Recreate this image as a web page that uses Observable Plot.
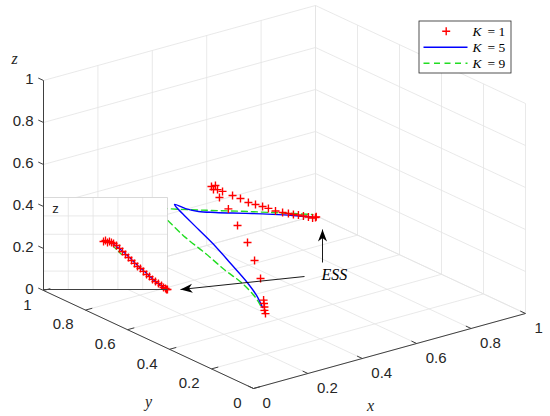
<!DOCTYPE html>
<html><head><meta charset="utf-8">
<script src="https://cdn.jsdelivr.net/npm/d3@7"></script>
<script src="https://cdn.jsdelivr.net/npm/@observablehq/plot@0.6"></script>
<style>html,body{margin:0;padding:0;background:#fff;} #chart{width:550px;height:416px;}</style>
</head><body><div id="chart"></div>
<script>
// ---------------- data ----------------
const tickValues = [0, 0.2, 0.4, 0.6, 0.8, 1];
const tickLabels = ["0", "0.2", "0.4", "0.6", "0.8", "1"];
const insetGridValues = [0.2, 0.4, 0.6, 0.8];
const seriesNames = ["1", "5", "9"]; // K values

// K = 1 (red +)
const k1X = [0.200,0.200,0.200,0.200,0.200,0.205,0.210,0.215,0.220,0.225,0.230,0.235,0.240,0.260,0.280,0.320,0.380,0.430,0.480,0.530,0.580,0.630,0.680,0.730,0.780,0.820,0.860,0.900,0.940,0.970,0.990,0.995];
const k1Y = [0.202,0.207,0.207,0.209,0.211,0.232,0.267,0.307,0.361,0.411,0.460,0.495,0.511,0.518,0.534,0.562,0.592,0.619,0.646,0.677,0.708,0.745,0.776,0.807,0.844,0.872,0.900,0.928,0.956,0.975,0.987,0.990];
const k1Z = [0.191,0.204,0.220,0.236,0.251,0.342,0.410,0.475,0.529,0.583,0.613,0.633,0.638,0.632,0.598,0.562,0.507,0.462,0.413,0.371,0.329,0.285,0.240,0.201,0.161,0.129,0.099,0.067,0.035,0.010,0.000,0.000];
// K = 5 (blue solid)
const k5X = [0.214,0.215,0.218,0.222,0.228,0.235,0.243,0.250,0.260,0.320,0.400,0.500,0.600,0.700,0.800,0.900,0.985];
const k5Y = [0.234,0.264,0.316,0.392,0.476,0.566,0.639,0.681,0.713,0.738,0.780,0.829,0.877,0.911,0.946,0.980,0.995];
const k5Z = [0.200,0.243,0.284,0.328,0.373,0.409,0.434,0.445,0.451,0.398,0.336,0.273,0.212,0.158,0.102,0.045,0.000];
// K = 9 (green dashed)
const k9X = [0.210,0.212,0.215,0.218,0.222,0.226,0.230,0.235,0.320,0.500,0.701,0.859,0.988];
const k9Y = [0.239,0.265,0.331,0.416,0.516,0.617,0.717,0.795,0.834,0.900,0.970,0.984,0.998];
const k9Z = [0.209,0.234,0.269,0.290,0.323,0.351,0.393,0.412,0.354,0.251,0.141,0.070,0.010];

// inset (zoomed view), coordinates in the inset's own [0,1] frame
const insetK1A = [0.484,0.500,0.516,0.532,0.548,0.565,0.589,0.613,0.637,0.661,0.685,0.710,0.734,0.758,0.782,0.806,0.831,0.855,0.879,0.903,0.927,0.952,0.968,0.984,0.992,1.000];
const insetK1B = [0.522,0.533,0.511,0.522,0.511,0.500,0.478,0.446,0.413,0.380,0.348,0.315,0.283,0.250,0.228,0.196,0.163,0.141,0.109,0.087,0.065,0.043,0.022,0.011,0.000,0.000];
const insetK5A = [0.556,0.621,0.685,0.750,0.823,0.903,0.984];
const insetK5B = [0.500,0.435,0.359,0.272,0.185,0.087,0.011];
const insetK9A = [0.565,0.605,0.645];
const insetK9B = [0.467,0.413,0.360];

// ---------------- view / layout ----------------
const view = {ux: 1.29524, uy: -1, vx: 0.35714, vy: 0.46667, vz: 1};
const proj = (x, y, z) => ({u: view.ux * x + view.uy * y, v: view.vx * x + view.vy * y + view.vz * z});
const px = (x) => (x - 253) / 210;   // page pixel -> view units (layout only)
const py = (y) => (388 - y) / 210;
const insetBox = {u0: px(43), u1: px(167), v0: py(289), v1: py(197)};
const insetProj = (a, b) => ({u: insetBox.u0 + (insetBox.u1 - insetBox.u0) * a, v: insetBox.v0 + (insetBox.v1 - insetBox.v0) * b});

const rows3 = (xs, ys, zs) => xs.map((x, i) => proj(x, ys[i], zs[i]));
const rowsInset = (as, bs) => as.map((a, i) => insetProj(a, bs[i]));
const seg = (p, q) => ({u1: p.u, v1: p.v, u2: q.u, v2: q.v});

const C = {red: "#ff0000", blue: "#0000ff", green: "#22dd22", grid: "#e3e3e3", axis: "#404040", text: "#262626"};
const sans = "Liberation Sans, Arial, Helvetica, sans-serif";
const serif = "Liberation Serif, Times New Roman, serif";

// grid lines on floor and the two back walls
const grid = [];
for (const t of tickValues) {
  grid.push(seg(proj(t, 0, 0), proj(t, 1, 0)));
  grid.push(seg(proj(0, t, 0), proj(1, t, 0)));
  grid.push(seg(proj(t, 1, 0), proj(t, 1, 1)));
  grid.push(seg(proj(0, 1, t), proj(1, 1, t)));
  grid.push(seg(proj(1, t, 0), proj(1, t, 1)));
  grid.push(seg(proj(1, 0, t), proj(1, 1, t)));
}
const axes = [seg(proj(0,0,0), proj(1,0,0)), seg(proj(0,0,0), proj(0,1,0)), seg(proj(0,1,0), proj(0,1,1))];
const tl = 0.025;
const tickSegs = [];
for (const t of tickValues) {
  tickSegs.push(seg(proj(t,0,0), proj(t,tl,0)));
  tickSegs.push(seg(proj(0,t,0), proj(tl,t,0)));
  tickSegs.push(seg(proj(0,1,t), proj(0,1 + tl,t)));
}
const xTickRows = tickValues.map((t, i) => ({...proj(t,0,0), label: tickLabels[i]}));
const yTickRows = tickValues.map((t, i) => ({...proj(0,t,0), label: tickLabels[i]}));
const zTickRows = tickValues.map((t, i) => ({...proj(0,1,t), label: tickLabels[i]}));

const insetGrid = [];
for (const g of insetGridValues) {
  insetGrid.push(seg(insetProj(g,0), insetProj(g,1)));
  insetGrid.push(seg(insetProj(0,g), insetProj(1,g)));
}
const insetFrameLight = [seg(insetProj(0,1), insetProj(1,1)), seg(insetProj(1,0), insetProj(1,1))];
const insetFrameDark = [seg(insetProj(0,0), insetProj(1,0)), seg(insetProj(0,0), insetProj(0,1))];

// symbols
const plusSymbol = {draw(ctx, size) { const r = Math.sqrt(size / Math.PI); ctx.moveTo(-r, 0); ctx.lineTo(r, 0); ctx.moveTo(0, -r); ctx.lineTo(0, r); }};
const headSymbol = (deg) => ({draw(ctx) {
  const L = 12, W = 4.5, N = 8.5, t = deg * Math.PI / 180, c = Math.cos(t), s = Math.sin(t);
  const pts = [[0,0],[W,L],[0,N],[-W,L]].map(([x, y]) => [x * c - y * s, x * s + y * c]);
  ctx.moveTo(pts[0][0], pts[0][1]); for (let i = 1; i < pts.length; i++) ctx.lineTo(pts[i][0], pts[i][1]); ctx.closePath();
}});

// annotations (layout)
const arrowUp = {tail: {u: px(322), v: py(262)}, tip: {u: px(322), v: py(229)}};
const arrowLeft = {tail: {u: px(304), v: py(276)}, tip: {u: px(180), v: py(289)}};
const legendBox = [{u1: px(419), u2: px(511), v1: py(73), v2: py(21)}];
const legendRowsY = [30.7, 46.7, 62.7].map(py);

const k1Rows = rows3(k1X, k1Y, k1Z), k5Rows = rows3(k5X, k5Y, k5Z), k9Rows = rows3(k9X, k9Y, k9Z);

const chart = Plot.plot({
  width: 550, height: 416, margin: 0,
  x: {domain: [px(0), px(550)], axis: null},
  y: {domain: [py(416), py(0)], axis: null},
  style: {background: "white", overflow: "visible"},
  marks: [
    Plot.link(grid, {x1: "u1", y1: "v1", x2: "u2", y2: "v2", stroke: C.grid, strokeWidth: 0.8}),
    Plot.line(k9Rows, {x: "u", y: "v", curve: "catmull-rom", stroke: C.green, strokeWidth: 1.4, strokeDasharray: "6,4"}),
    Plot.line(k5Rows, {x: "u", y: "v", curve: "catmull-rom", stroke: C.blue, strokeWidth: 1.4}),
    Plot.dot(k1Rows, {x: "u", y: "v", symbol: plusSymbol, r: 4, fill: "none", stroke: C.red, strokeWidth: 1.4}),
    // inset
    Plot.rect([insetBox], {x1: "u0", x2: "u1", y1: "v0", y2: "v1", fill: "white"}),
    Plot.link(insetGrid, {x1: "u1", y1: "v1", x2: "u2", y2: "v2", stroke: C.grid, strokeWidth: 0.8}),
    Plot.link(insetFrameLight, {x1: "u1", y1: "v1", x2: "u2", y2: "v2", stroke: "#cfcfcf", strokeWidth: 0.8}),
    Plot.line(rowsInset(insetK9A, insetK9B), {x: "u", y: "v", stroke: C.green, strokeWidth: 1.3, strokeDasharray: "4,3"}),
    Plot.line(rowsInset(insetK5A, insetK5B), {x: "u", y: "v", curve: "catmull-rom", stroke: C.blue, strokeWidth: 1.3}),
    Plot.dot(rowsInset(insetK1A, insetK1B), {x: "u", y: "v", symbol: plusSymbol, r: 4, fill: "none", stroke: C.red, strokeWidth: 1.3}),
    Plot.link(insetFrameDark, {x1: "u1", y1: "v1", x2: "u2", y2: "v2", stroke: C.axis, strokeWidth: 1}),
    Plot.text([insetProj(0.097, 0.88)], {x: "u", y: "v", text: () => "z", fontFamily: sans, fontSize: 13, fill: C.text}),
    // axes
    Plot.link(axes, {x1: "u1", y1: "v1", x2: "u2", y2: "v2", stroke: C.axis, strokeWidth: 1}),
    Plot.link(tickSegs, {x1: "u1", y1: "v1", x2: "u2", y2: "v2", stroke: C.axis, strokeWidth: 1}),
    Plot.text(xTickRows, {x: "u", y: "v", text: "label", dx: 9, dy: 15, textAnchor: "start", fontFamily: sans, fontSize: 15, fill: C.text}),
    Plot.text(yTickRows, {x: "u", y: "v", text: "label", dx: -12, dy: 14.5, textAnchor: "end", fontFamily: sans, fontSize: 15, fill: C.text}),
    Plot.text(zTickRows, {x: "u", y: "v", text: "label", dx: -10, dy: -1, textAnchor: "end", fontFamily: sans, fontSize: 15, fill: C.text}),
    Plot.text([{u: px(370), v: py(405), t: "x"}, {u: px(148), v: py(401), t: "y"}, {u: px(14), v: py(58), t: "z"}],
      {x: "u", y: "v", text: "t", fontFamily: serif, fontStyle: "italic", fontSize: 16, fill: C.text}),
    // ESS annotation
    Plot.link([seg(arrowUp.tail, arrowUp.tip), seg(arrowLeft.tail, arrowLeft.tip)], {x1: "u1", y1: "v1", x2: "u2", y2: "v2", stroke: "black", strokeWidth: 0.9}),
    Plot.dot([arrowUp.tip], {x: "u", y: "v", symbol: headSymbol(0), r: 5, fill: "black", stroke: "none"}),
    Plot.dot([arrowLeft.tip], {x: "u", y: "v", symbol: headSymbol(264), r: 5, fill: "black", stroke: "none"}),
    Plot.text([{u: px(321), v: py(274)}], {x: "u", y: "v", text: () => "ESS", textAnchor: "start", fontFamily: serif, fontStyle: "italic", fontSize: 16, letterSpacing: "1px", fill: "black"}),
    // legend
    Plot.rect(legendBox, {x1: "u1", x2: "u2", y1: "v1", y2: "v2", fill: "white", stroke: "#262626", strokeWidth: 0.8}),
    Plot.dot([{u: px(445.7), v: legendRowsY[0]}], {x: "u", y: "v", symbol: plusSymbol, r: 4, fill: "none", stroke: C.red, strokeWidth: 1.4}),
    Plot.link([seg({u: px(423), v: legendRowsY[1]}, {u: px(467), v: legendRowsY[1]})], {x1: "u1", y1: "v1", x2: "u2", y2: "v2", stroke: C.blue, strokeWidth: 1.4}),
    Plot.link([seg({u: px(423), v: legendRowsY[2]}, {u: px(467), v: legendRowsY[2]})], {x1: "u1", y1: "v1", x2: "u2", y2: "v2", stroke: C.green, strokeWidth: 1.4, strokeDasharray: "6,4.5"}),
    Plot.text(seriesNames.map((s, i) => ({u: px(472), v: legendRowsY[i]})), {x: "u", y: "v", text: () => "K", textAnchor: "start", fontFamily: serif, fontStyle: "italic", fontSize: 13.5, fill: "black"}),
    Plot.text(seriesNames.map((s, i) => ({u: px(487), v: legendRowsY[i], s})), {x: "u", y: "v", text: (d) => "= " + d.s, textAnchor: "start", fontFamily: serif, fontSize: 13.5, fill: "black"})
  ]
});
document.getElementById("chart").appendChild(chart);
</script>
</body></html>
